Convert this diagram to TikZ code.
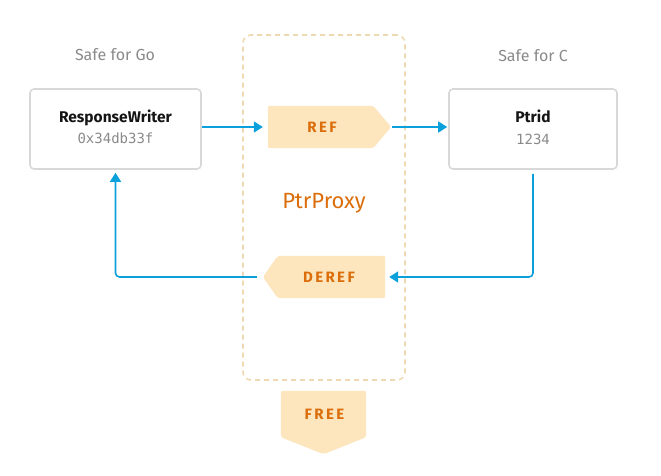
\documentclass[tikz,border=0pt]{standalone}
\usepackage{fontspec}
\setmainfont{Fira Sans}
\setmonofont{DejaVu Sans Mono}
\newfontfamily\tagfont[LetterSpace=16]{Fira Sans}
\usetikzlibrary{arrows.meta,backgrounds}
\definecolor{peach}{HTML}{FDE5BD}
\definecolor{orangetxt}{HTML}{DB6E0B}
\definecolor{dashc}{HTML}{EFD9B3}
\definecolor{boxc}{HTML}{D8D8D8}
\definecolor{flowc}{HTML}{0AA0DC}
\definecolor{graytxt}{HTML}{8A8A8A}
\definecolor{darktxt}{HTML}{151515}
\tikzset{
  card/.style={draw=boxc, line width=1.6pt, rounded corners=4pt, fill=white},
  caption/.style={text=graytxt, font=\fontsize{16}{18}\selectfont, inner sep=0pt, anchor=base},
  title/.style={text=darktxt, font=\bfseries\fontsize{15.5}{18}\selectfont, inner sep=0pt, anchor=base},
  value/.style={text=graytxt, font=\ttfamily\fontsize{14}{16}\selectfont, inner sep=0pt, anchor=base},
  tagbody/.style={inner sep=0pt, text=orangetxt, font=\tagfont\bfseries\fontsize{15}{17}\selectfont},
  tagfill/.style={fill=peach, rounded corners=2pt},
  proxybox/.style={draw=dashc, line width=1.6pt, dash pattern=on 5pt off 4pt, rounded corners=8pt},
  flow/.style={draw=flowc, line width=1.6pt, rounded corners=4pt, -{Triangle[length=9pt,width=11pt]}},
}
\begin{document}
\begin{tikzpicture}[x=1pt,y=-1pt]
\useasboundingbox (0,0) rectangle (661,476);

% PtrProxy dashed region
\node[proxybox, minimum width=162pt, minimum height=345pt] (proxy) at (324,207.5) {};
\node[text=orangetxt, font=\fontsize{22}{26}\selectfont, inner sep=0pt, anchor=base] (proxylabel) at (324,208) {PtrProxy};

% captions
\node[caption] (safego) at (115,61) {Safe for Go};
\node[caption] (safec) at (533,62) {Safe for C};

% cards
\node[card, minimum width=171pt, minimum height=80pt] (lbox) at (115.5,129) {};
\node[title] (lname) at (115.5,122.5) {ResponseWriter};
\node[value] (lval) at (115.5,143.5) {0x34db33f};

\node[card, minimum width=168pt, minimum height=80pt] (rbox) at (533,129) {};
\node[title] (rname) at (533,123) {Ptrid};
\node[value] (rval) at (533,144.5) {1234};

% tags
\node[tagbody, minimum width=105pt, minimum height=42pt] (ref) at (320.5,127) {\hspace*{3pt}REF};
\node[tagbody, minimum width=107pt, minimum height=42pt] (deref) at (331.5,277) {\hspace*{-5pt}DEREF};
\node[tagbody, minimum width=85pt, minimum height=46pt] (free) at (323.5,414) {\hspace*{2pt}\raisebox{-3pt}{FREE}};
\begin{scope}[on background layer]
  \fill[tagfill] (ref.north west) -- (ref.north east) -- ([xshift=18pt]ref.east) -- (ref.south east) -- (ref.south west) -- cycle;
  \fill[tagfill] (deref.north east) -- (deref.north west) -- ([xshift=-15pt]deref.west) -- (deref.south west) -- (deref.south east) -- cycle;
  \fill[tagfill] (free.north west) -- (free.north east) -- (free.south east) -- ([yshift=-17pt]free.south) -- (free.south west) -- cycle;
\end{scope}

% connectors
\draw[flow] (ref.west -| lbox.east) -- ([xshift=-5pt]ref.west);
\draw[flow] ([xshift=19pt]ref.east) -- ([xshift=-1pt]ref.east -| rbox.west);
\draw[flow] ([yshift=-4pt]rbox.south) |- ([xshift=4pt]deref.east);
\draw[flow] ([xshift=-21pt]deref.west) -| ([yshift=-3pt]lbox.south);
\end{tikzpicture}
\end{document}
